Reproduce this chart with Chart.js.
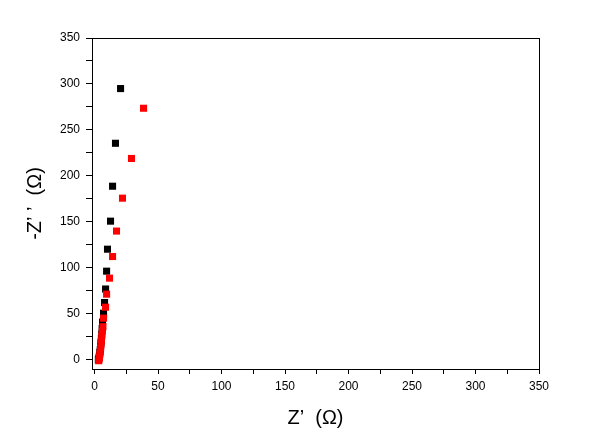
<!DOCTYPE html>
<html>
<head>
<meta charset="utf-8">
<script src="https://cdn.jsdelivr.net/npm/chart.js@4"></script>
<style>
html,body{margin:0;padding:0;background:#fff;}
#wrap{width:614px;height:444px;position:relative;}
</style>
</head>
<body>
<div id="wrap"><canvas id="c" width="614" height="444"></canvas></div>
<script>
// Series A (black): Z' and -Z''
const blackZre = [3.0, 3.3, 3.6, 3.9, 4.2, 4.5, 4.8, 5.1, 5.4, 5.7, 6.0, 6.3, 7.1, 7.9, 8.7, 9.5, 10.2, 12.6, 14.2, 16.5, 20.5];
const blackZim = [0, 1, 3, 5, 8, 11, 15, 19, 23, 28, 34, 41, 50.7, 62.3, 77, 96.4, 120.3, 150.8, 188.8, 235.5, 295];
// Series B (red)
const redZre = [3.3, 3.6, 3.9, 4.2, 4.5, 4.8, 5.1, 5.4, 5.7, 6.1, 6.6, 7.1, 8.7, 9.5, 11.8, 14.2, 17.3, 22.0, 29.1, 38.6];
const redZim = [-1, 1, 3, 6, 9, 13, 17, 21, 26, 31, 36, 45.3, 57.2, 71.4, 88.8, 112.3, 140, 175.8, 219, 273.6];
// Axis settings
const xTitle = "Z\u2019  (\u03A9)";
const yTitle = "-Z\u2019 \u2019  (\u03A9)";
const axisMax = 350;
const majorStep = 50;
const minorStep = 25;

const toPts = (xs, ys) => xs.map((x, i) => ({x: x, y: ys[i]}));

const tickFont = {family: "'Liberation Sans', Arial, sans-serif", size: 12};
const titleFont = {family: "'Liberation Sans', Arial, sans-serif", size: 20};

new Chart(document.getElementById('c'), {
  type: 'scatter',
  data: {
    datasets: [
      {data: toPts(blackZre, blackZim), backgroundColor: '#000000', borderWidth: 0, pointStyle: 'rect', pointRadius: 5, order: 2},
      {data: toPts(redZre, redZim), backgroundColor: '#ff0000', borderWidth: 0, pointStyle: 'rect', pointRadius: 5, order: 1}
    ]
  },
  options: {
    responsive: false,
    animation: false,
    events: [],
    layout: {padding: 0},
    plugins: {legend: {display: false}, tooltip: {enabled: false}},
    scales: {
      x: {
        type: 'linear', position: 'bottom', min: -2, max: axisMax,
        afterFit: s => { s.height = 75; },
        ticks: {stepSize: minorStep, includeBounds: false, color: '#000', font: tickFont, padding: 5, maxRotation: 0,
          callback: v => (v % majorStep === 0 ? String(v) : '')},
        grid: {drawOnChartArea: false, drawTicks: true, tickLength: 5, color: '#000', tickWidth: 1},
        border: {display: true, color: '#000', width: 1},
        title: {display: true, text: xTitle, color: '#000', font: titleFont, padding: {top: 0, bottom: 14}}
      },
      y: {
        type: 'linear', position: 'left', min: -10, max: axisMax,
        afterFit: s => { s.width = 92; },
        ticks: {stepSize: minorStep, includeBounds: false, color: '#000', font: tickFont, padding: 6,
          callback: v => (v % majorStep === 0 ? String(v) : '')},
        grid: {drawOnChartArea: false, drawTicks: true, tickLength: 6, color: '#000', tickWidth: 1},
        border: {display: true, color: '#000', width: 1},
        title: {display: true, text: yTitle, color: '#000', font: titleFont, padding: {top: 23, bottom: 0}}
      },
      x2: {
        type: 'linear', position: 'top', min: -2, max: axisMax,
        afterFit: s => { s.height = 38; },
        ticks: {display: false},
        grid: {drawOnChartArea: false, drawTicks: false},
        border: {display: true, color: '#000', width: 1}
      },
      y2: {
        type: 'linear', position: 'right', min: -10, max: axisMax,
        afterFit: s => { s.width = 75; },
        ticks: {display: false},
        grid: {drawOnChartArea: false, drawTicks: false},
        border: {display: true, color: '#000', width: 1}
      }
    }
  }
});
</script>
</body>
</html>
